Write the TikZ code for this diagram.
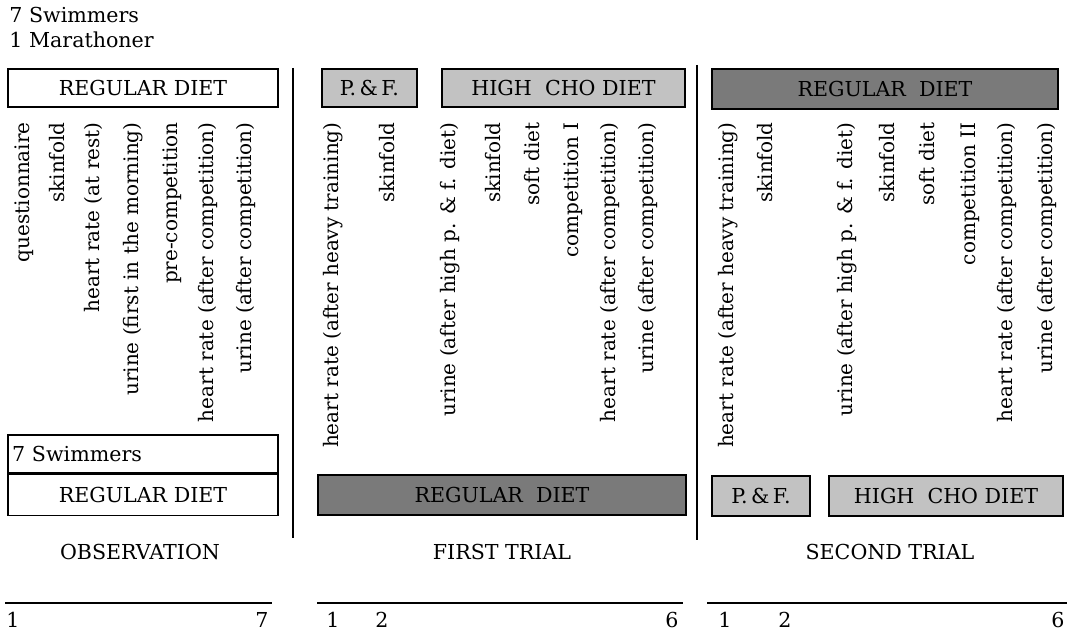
\documentclass[tikz,border=0pt]{standalone}
\usepackage{fontspec}
\setmainfont{DejaVu Serif}
\usetikzlibrary{positioning}

\begin{document}
\begin{tikzpicture}[
    x=0.5pt, y=-0.5pt,
    every node/.style={font=\fontsize{10.3}{12}\selectfont},
    box/.style={draw, line width=0.6pt, inner sep=0pt, fill=white},
    lightbox/.style={box, fill=black!24},
    darkbox/.style={box, fill=black!52},
    test/.style={rotate=90, anchor=east, inner sep=0pt, font=\fontsize{10}{12}\selectfont},
    scale line/.style={line width=0.8pt}
]
    \useasboundingbox (0,0) rectangle (1071,630);

    % header
    \node[anchor=west, inner sep=0pt] (swimmers) at (9,15) {7 Swimmers};
    \node[anchor=west, inner sep=0pt] (marathoner) at (9,40) {1 Marathoner};

    % observation
    \node[box, minimum width=135pt, minimum height=19pt] (obsdiet) at (143,88) {REGULAR DIET};
    \foreach \x/\t [count=\i] in {24/questionnaire, 57/skinfold, 93/heart rate (at rest),
        133/urine (first in the morning), 172/pre-competition,
        208/heart rate (after competition), 246/urine (after competition)}
        \node[test] (obs\i) at (\x,122) {\t};
    \node[box, minimum width=135pt, minimum height=19pt, text width=131pt, align=left] (obsswim) at (143,454) {7 Swimmers};
    \node[box, minimum width=135pt, minimum height=20.5pt, below=0pt of obsswim] (obsreg) {REGULAR DIET};
    \node (obslabel) at (140,552) {OBSERVATION};

    \draw[line width=0.6pt] (293,68) -- (293,538);

    % first trial
    \node[lightbox, minimum width=47.5pt, minimum height=19pt] (pf1) at (369.5,88) {P.\,\&\,F.};
    \node[lightbox, minimum width=121.5pt, minimum height=19pt] (cho1) at (563.5,88) {HIGH\ \ CHO DIET};
    \foreach \x/\t [count=\i] in {333/heart rate (after heavy training), 387/skinfold,
        450/urine (after high p. \& f. diet), 493/skinfold, 532/soft diet, 573/competition I,
        610/heart rate (after competition), 648/urine (after competition)}
        \node[test] (first\i) at (\x,122) {\t};
    \node[darkbox, minimum width=184pt, minimum height=20pt] (reg1) at (502,495) {REGULAR\ \ DIET};
    \node (firstlabel) at (502,552) {FIRST TRIAL};

    \draw[line width=0.6pt] (697,65) -- (697,540);

    % second trial
    \node[darkbox, minimum width=173pt, minimum height=20pt] (reg2) at (885,89) {REGULAR\ \ DIET};
    \foreach \x/\t [count=\i] in {728/heart rate (after heavy training), 765/skinfold,
        847/urine (after high p. \& f. diet), 887/skinfold, 927/soft diet, 970/competition II,
        1007/heart rate (after competition), 1047/urine (after competition)}
        \node[test] (second\i) at (\x,122) {\t};
    \node[lightbox, minimum width=49pt, minimum height=20pt] (pf2) at (761,496) {P.\,\&\,F.};
    \node[lightbox, minimum width=117pt, minimum height=20pt] (cho2) at (946,496) {HIGH\ \ CHO DIET};
    \node (secondlabel) at (890,552) {SECOND TRIAL};

    % day scales
    \draw[scale line] (5,603) -- (272,603);
    \draw[scale line] (317,603) -- (683,603);
    \draw[scale line] (707,603) -- (1067,603);
    \node (d1) at (13,620) {1};
    \node (d7) at (262,620) {7};
    \node (f1) at (333,620) {1};
    \node (f2) at (382,620) {2};
    \node (f6) at (672,620) {6};
    \node (s1) at (725,620) {1};
    \node (s2) at (785,620) {2};
    \node (s6) at (1058,620) {6};
\end{tikzpicture}
\end{document}
